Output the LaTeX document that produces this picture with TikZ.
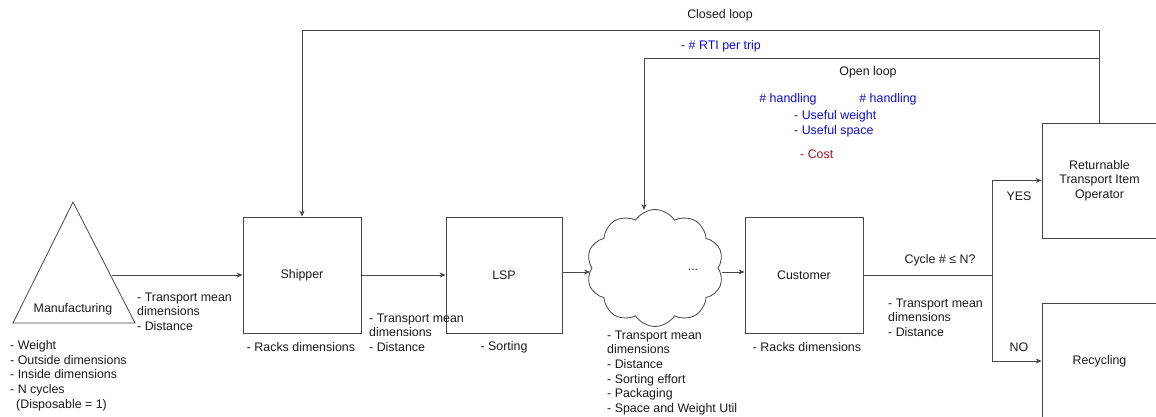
\documentclass[tikz,border=0pt]{standalone}
\usepackage{fontspec}
\setmainfont{Liberation Sans}
\usetikzlibrary{arrows.meta,shapes.symbols,calc}
\definecolor{lineg}{RGB}{70,70,70}
\definecolor{txt}{RGB}{25,25,25}
\definecolor{bluet}{RGB}{10,10,205}
\definecolor{redt}{RGB}{155,20,30}
\begin{document}
\begin{tikzpicture}[x=1pt,y=-1pt,
  every node/.style={font=\fontsize{12.4}{14.6}\selectfont, text=txt, inner sep=0pt},
  boxnode/.style={draw=lineg, line width=0.8pt, rectangle},
  conn/.style={draw=lineg, line width=0.8pt},
  arr/.style={conn, -{Stealth[length=6pt,width=5pt]}},
  lbl/.style={align=left, anchor=north west},
  bluelbl/.style={text=bluet},
]
\clip (0,0) rectangle (1156,416);
\useasboundingbox (0,0) rectangle (1156,416);

% triangle
\coordinate (tA) at (73,202);
\coordinate (tL) at (13,323);
\coordinate (tR) at (135,323);
\draw[conn] (tA) -- (tL) -- (tR) -- cycle;
\node (mfg) at (73,309) {Manufacturing};
\coordinate (mfgout) at (112,275);

% boxes
\node[boxnode, minimum width=118pt, minimum height=116pt] (shipper) at (302,275) {Shipper};
\node[boxnode, minimum width=116pt, minimum height=116pt] (lsp) at (504,275) {LSP};
\node[draw=lineg, line width=0.8pt, cloud, cloud puffs=10, cloud puff arc=115, aspect=1.17,
      minimum width=137pt, minimum height=117pt] (cloud) at (655,268) {};
\node (dots) at (693,270) {...};
\node[boxnode, minimum width=118pt, minimum height=116pt] (customer) at (804,275) {Customer};
\node[boxnode, minimum width=115pt, minimum height=115pt, align=center] (rti) at (1099.5,180.5)
  {Returnable\\Transport Item\\Operator};
\node[boxnode, minimum width=115pt, minimum height=116pt] (recyc) at (1099.5,361) {Recycling};

% connectors
\draw[arr] (mfgout) -- (mfgout -| shipper.west);
\draw[arr] (shipper.east) -- (lsp.west);
\coordinate (cin) at (590,272);
\draw[arr] ([yshift=3pt]lsp.east) -- (cin);
\coordinate (cout) at (722,272);
\draw[arr] (cout) -- (cout -| customer.west);
\coordinate (br) at (992,275);
\draw[conn] (customer.east) -- (br);
\draw[arr] (br) |- (rti.west);
\draw[arr] (br) |- (recyc.west);

\coordinate (cl) at (0,30);
\draw[arr] (rti.north) |- (shipper.north |- cl) -- (shipper.north);
\coordinate (ol) at (0,58);
\coordinate (ctop) at (644,210);
\draw[arr] (rti.north |- ol) -| (ctop);

% labels
\node (closed) at (720,15) {Closed loop};
\node[bluelbl] (rtitrip) at (721,46) {- \# RTI per trip};
\node (open) at (868,72) {Open loop};
\node[bluelbl] (hand1) at (788,99) {\# handling};
\node[bluelbl] (hand2) at (888,99) {\# handling};
\node[bluelbl, lbl] (useful) at (794,110.5) {- Useful weight\\- Useful space};
\node[text=redt, anchor=west] (cost) at (800,154) {- Cost};
\node (cycle) at (940,260) {Cycle \# ≤ N?};
\node (yes) at (1019,196) {YES};
\node (no) at (1019,347) {NO};

\node[lbl] (mfglist) at (10,340.5) {- Weight\\- Outside dimensions\\- Inside dimensions\\- N cycles\\\hspace*{6pt}(Disposable = 1)};
\node[lbl] (t1) at (137,292.5) {- Transport mean\\dimensions\\- Distance};
\node (racks1) at (301,347) {- Racks dimensions};
\node[lbl] (t2) at (369,313.5) {- Transport mean\\dimensions\\- Distance};
\node (sorting) at (504,347) {- Sorting};
\node[lbl] (t3) at (607,330.5) {- Transport mean\\dimensions\\- Distance\\- Sorting effort\\- Packaging\\- Space and Weight Util};
\node (racks2) at (807,347) {- Racks dimensions};
\node[lbl] (t4) at (888,298.5) {- Transport mean\\dimensions\\- Distance};
\end{tikzpicture}
\end{document}
